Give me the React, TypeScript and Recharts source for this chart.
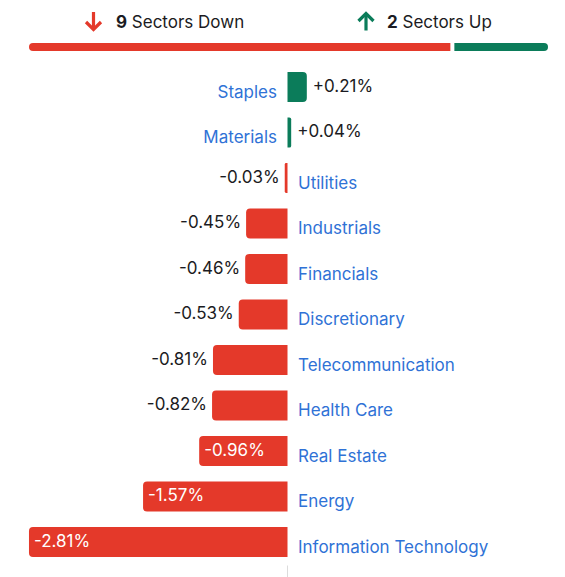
import { BarChart, Bar, XAxis, YAxis, Cell, LabelList, ReferenceLine } from "recharts";

const categories = [
  "Staples",
  "Materials",
  "Utilities",
  "Industrials",
  "Financials",
  "Discretionary",
  "Telecommunication",
  "Health Care",
  "Real Estate",
  "Energy",
  "Information Technology",
];
const changes = [0.21, 0.04, -0.03, -0.45, -0.46, -0.53, -0.81, -0.82, -0.96, -1.57, -2.81];

const sectorsDown = changes.filter((v) => v < 0).length;
const sectorsUp = changes.filter((v) => v > 0).length;

const RED = "#e4392a";
const GREEN = "#0b7c5a";
const BLUE = "#2f72d6";
const INK = "#1b1b22";
const FONT = "Inter, 'Noto Sans', sans-serif";
// bars at least this long carry their value inside
const INSIDE_MIN = 0.9;
const GAP = 4;

const fmt = (v: number) => (v > 0 ? "+" : "") + v.toFixed(2) + "%";

const data = categories.map((name, i) => ({ name, change: changes[i] }));
const summary = [{ name: "sectors", down: sectorsDown, up: sectorsUp }];
const total = sectorsDown + sectorsUp;

const renderLabels = (props: any) => {
  const { x, y, width, height, index } = props;
  const v = changes[index];
  const x0 = Number(x);
  const w = Number(width);
  const left = Math.min(x0, x0 + w);
  const right = Math.max(x0, x0 + w);
  const cy = Number(y) + Number(height) / 2;
  const name = categories[index];

  if (v >= 0) {
    return (
      <g fontFamily={FONT} fontSize={17}>
        <text x={left - 10.5} y={cy + 10.8} textAnchor="end" fill={BLUE}>{name}</text>
        <text x={right + 6} y={cy + 4.5} fill={INK}>{fmt(v)}</text>
      </g>
    );
  }
  const inside = Math.abs(v) >= INSIDE_MIN;
  return (
    <g fontFamily={FONT} fontSize={17}>
      <text x={right + 10.5} y={cy + 10.8} fill={BLUE}>{name}</text>
      {inside ? (
        <text x={left + 5} y={cy + 4.5} fill="#fff">{fmt(v)}</text>
      ) : (
        <text x={left - 5} y={cy + 4.5} textAnchor="end" fill={INK}>{fmt(v)}</text>
      )}
    </g>
  );
};

// split a small white gap between the red and green parts
const DownShape = (props: any) => {
  const { x, y, width, height } = props;
  const r = height / 2;
  const w = width - (GAP * sectorsDown) / total;
  return (
    <path
      d={`M${x + w},${y} H${x + r} A${r},${r} 0 0 0 ${x + r},${y + height} H${x + w} Z`}
      fill={RED}
    />
  );
};

const UpShape = (props: any) => {
  const { x, y, width, height } = props;
  const r = height / 2;
  const x1 = x + (GAP * sectorsUp) / total;
  const end = x + width;
  return (
    <path
      d={`M${x1},${y} H${end - r} A${r},${r} 0 0 1 ${end - r},${y + height} H${x1} Z`}
      fill={GREEN}
    />
  );
};

const App = () => {
  return (
    <div style={{ position: "absolute", left: 0, top: 0, width: 565, height: 577, background: "#fff" }}>
      <svg width={565} height={40} style={{ position: "absolute", left: 0, top: 0 }}>
        <g stroke={RED} strokeWidth={3.2} fill="none">
          <line x1={93.5} y1={12} x2={93.5} y2={29} />
          <polyline points="86,22 93.5,29.5 101,22" />
        </g>
        <text x={116} y={27.5} fontFamily={FONT} fontSize={17} fill={INK}>
          <tspan fontWeight={700}>{sectorsDown}</tspan> Sectors Down
        </text>
        <g stroke={GREEN} strokeWidth={3.2} fill="none">
          <line x1={366} y1={13.5} x2={366} y2={30.5} />
          <polyline points="358.5,21 366,13.5 373.5,21" />
        </g>
        <text x={387} y={27.5} fontFamily={FONT} fontSize={17} fill={INK}>
          <tspan fontWeight={700}>{sectorsUp}</tspan> Sectors Up
        </text>
      </svg>

      <div style={{ position: "absolute", left: 29, top: 43 }}>
        <BarChart
          width={519}
          height={8}
          data={summary}
          layout="vertical"
          margin={{ top: 0, right: 0, bottom: 0, left: 0 }}
          barCategoryGap={0}
        >
          <XAxis type="number" hide domain={[0, total]} />
          <YAxis type="category" dataKey="name" hide />
          <Bar dataKey="down" stackId="s" fill={RED} shape={DownShape} isAnimationActive={false} />
          <Bar dataKey="up" stackId="s" fill={GREEN} shape={UpShape} isAnimationActive={false} />
        </BarChart>
      </div>

      <div style={{ position: "absolute", left: 0, top: 0 }}>
        <BarChart
          width={565}
          height={577}
          data={data}
          layout="vertical"
          margin={{ top: 64, right: 1.5, bottom: 12.5, left: 11.5 }}
          barSize={30}
        >
          <XAxis type="number" hide domain={[-3, 3]} />
          <YAxis type="category" dataKey="name" hide />
          <ReferenceLine
            x={0}
            stroke="#dcdcdc"
            strokeWidth={1}
            shape={(p: any) => (
              <line x1={p.x1} x2={p.x2} y1={p.y1 + 1} y2={577} stroke="#dcdcdc" strokeWidth={1} />
            )}
          />
          <Bar dataKey="change" radius={[0, 4, 4, 0]} isAnimationActive={false}>
            {data.map((d, i) => (
              <Cell key={i} fill={d.change >= 0 ? GREEN : RED} />
            ))}
            <LabelList dataKey="change" content={renderLabels} />
          </Bar>
        </BarChart>
      </div>
    </div>
  );
};

export default App;
